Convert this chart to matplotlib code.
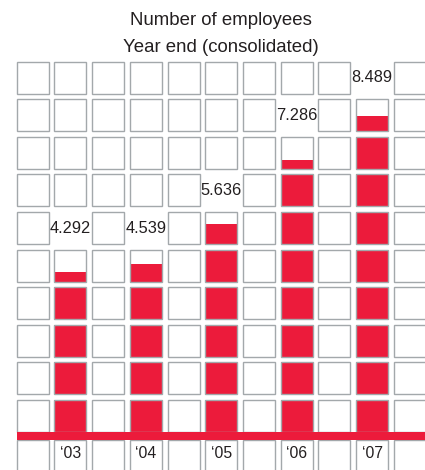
import math
import matplotlib
matplotlib.use("Agg")
import matplotlib.pyplot as plt
from matplotlib.patches import Rectangle

# Data (thousands of employees, shown with European separator)
years = ["\u201803", "\u201804", "\u201805", "\u201806", "\u201807"]
employees = [4.292, 4.539, 5.636, 7.286, 8.489]
value_labels = ["4.292", "4.539", "5.636", "7.286", "8.489"]
bar_columns = [1, 3, 5, 7, 9]

n_cols = 11
n_rows = 10
cell = 0.85
red = "#EC1B3B"
edge = "#A3A8AB"
text_color = "#231F20"
font = "Liberation Sans"

fig = plt.figure(figsize=(4.25, 4.70), dpi=100)
ax = fig.add_axes([0, 0, 1, 1])
ax.set_xlim(-0.443, 10.83)
ax.set_ylim(-1.011, 11.49)
ax.axis("off")

label_rows = {c: math.ceil(v) for c, v in zip(bar_columns, employees)}
values = dict(zip(bar_columns, employees))

for c in range(n_cols):
    for r in range(n_rows):
        if label_rows.get(c) == r:
            continue
        if c in values:
            fill = min(max(values[c] - r, 0), 1)
            if fill > 0:
                ax.bar(c, fill * cell, bottom=r, width=cell, align="edge",
                       color=red, linewidth=0, zorder=2)
        ax.add_patch(Rectangle((c, r), cell, cell, facecolor="none",
                               edgecolor=edge, linewidth=1.0, zorder=3))
    # cells below the baseline band
    ax.add_patch(Rectangle((c, -1.4), cell, 1.2, facecolor="none",
                           edgecolor=edge, linewidth=1.0, zorder=3))

# value labels
for c, lab in zip(bar_columns, value_labels):
    ax.text(c + cell / 2, label_rows[c] + cell / 2, lab, ha="center", va="center",
            fontsize=11.8, color=text_color, family=font, zorder=4)

# baseline band
ax.add_patch(Rectangle((0, -0.213), 12, 0.205, facecolor=red, edgecolor="none", zorder=5))

# year labels
for c, y in zip(bar_columns, years):
    ax.text(c + cell / 2, -0.585, y, ha="center", va="center",
            fontsize=11.3, color=text_color, family=font, zorder=4)

fig.text(221 / 425, 1 - 25 / 470, "Number of employees", ha="center", va="baseline",
         fontsize=13.4, color=text_color, family=font)
fig.text(221 / 425, 1 - 51.7 / 470, "Year end (consolidated)", ha="center", va="baseline",
         fontsize=13.4, color=text_color, family=font)

fig.savefig("out.png", dpi=100, facecolor="white")
